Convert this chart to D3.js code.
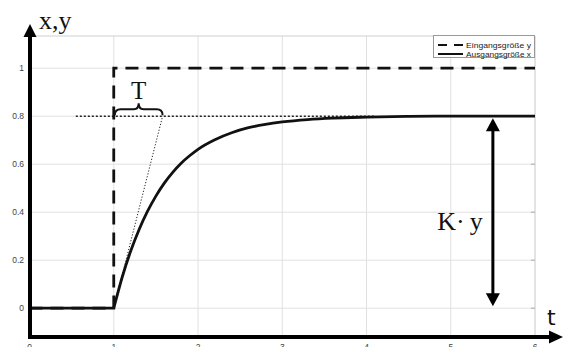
<!DOCTYPE html>
<html>
<head>
<meta charset="utf-8">
<script src="https://cdn.jsdelivr.net/npm/d3@7"></script>
<style>
  body { margin: 0; background: #fff; }
  svg { display: block; }
</style>
</head>
<body>
<div id="chart"></div>
<script>
//step input y (dashed)
var inputTime = [0, 1, 1, 6];
var inputValue = [0, 0, 1, 1];

//output x
var outputTime = [0, 1, 1.1, 1.2, 1.3, 1.4, 1.5, 1.6, 1.7, 1.8, 1.9, 2.0, 2.2, 2.4, 2.6, 2.8, 3.0, 3.3, 3.6, 4.0, 4.5, 5.0, 6.0];
var outputValue = [0, 0, 0.129, 0.237, 0.327, 0.403, 0.467, 0.521, 0.566, 0.604, 0.635, 0.662, 0.702, 0.731, 0.752, 0.766, 0.776, 0.786, 0.792, 0.796, 0.799, 0.800, 0.800];

//annotations
var gainLevel = 0.8;
var stepTime = 1;
var tangentEnd = 1.58;
var guideStart = 0.55;
var guideEnd = 4.1;
var arrowTime = 5.5;

//ticks and labels
var xTicks = [0, 1, 2, 3, 4, 5, 6];
var yTicks = [0, 0.2, 0.4, 0.6, 0.8, 1];
var legendLabels = ["Eingangsgröße y", "Ausgangsgröße x"];

var width = 563, height = 347;

var svg = d3.select("#chart").append("svg")
    .attr("width", width)
    .attr("height", height);

var x = d3.scaleLinear().domain([0, 6]).range([29.5, 535]);
var y = d3.scaleLinear().domain([-0.12, 1.134]).range([337, 36]);

//grid
svg.append("g")
    .selectAll("line")
    .data(xTicks.slice(1))
    .enter().append("line")
    .attr("x1", d => x(d)).attr("x2", d => x(d))
    .attr("y1", y(1.134)).attr("y2", y(-0.12))
    .attr("stroke", d => d == 6 ? "#c8c8c8" : "#e0e0e0")
    .attr("stroke-width", 1);

svg.append("g")
    .selectAll("line")
    .data(yTicks)
    .enter().append("line")
    .attr("x1", x(0)).attr("x2", x(6))
    .attr("y1", d => y(d)).attr("y2", d => y(d))
    .attr("stroke", "#e0e0e0")
    .attr("stroke-width", 1);

//top border
svg.append("line")
    .attr("x1", x(0)).attr("x2", x(6))
    .attr("y1", y(1.134)).attr("y2", y(1.134))
    .attr("stroke", "#cfcfcf");

//small ticks on the right border
svg.append("g")
    .selectAll("line")
    .data(yTicks)
    .enter().append("line")
    .attr("x1", x(6) - 4).attr("x2", x(6))
    .attr("y1", d => y(d)).attr("y2", d => y(d))
    .attr("stroke", "#aaa");

//tick labels
svg.append("g")
    .selectAll("text")
    .data(yTicks)
    .enter().append("text")
    .attr("x", 24)
    .attr("y", d => y(d) + 3)
    .attr("text-anchor", "end")
    .style("font-family", "Liberation Sans, Arial, sans-serif")
    .style("font-size", "8.5px")
    .style("fill", "#444")
    .text(d => d3.format("~g")(d));

svg.append("g")
    .selectAll("text")
    .data(xTicks)
    .enter().append("text")
    .attr("x", d => x(d))
    .attr("y", 350)
    .attr("text-anchor", "middle")
    .style("font-family", "Liberation Sans, Arial, sans-serif")
    .style("font-size", "8.5px")
    .style("fill", "#444")
    .text(d => d);

//dotted guide at final value
svg.append("line")
    .attr("x1", x(guideStart)).attr("x2", x(guideEnd))
    .attr("y1", y(gainLevel)).attr("y2", y(gainLevel))
    .attr("stroke", "#222")
    .attr("stroke-width", 1.5)
    .attr("stroke-dasharray", "2,2");

//tangent at the start
svg.append("line")
    .attr("x1", x(stepTime)).attr("x2", x(tangentEnd))
    .attr("y1", y(0)).attr("y2", y(gainLevel))
    .attr("stroke", "#222")
    .attr("stroke-width", 1)
    .attr("stroke-dasharray", "1.2,1.8");

//input step
var inputLine = d3.line()
    .x((d, i) => x(inputTime[i]))
    .y((d, i) => y(inputValue[i]));

svg.append("path")
    .attr("d", inputLine(inputTime))
    .attr("fill", "none")
    .attr("stroke", "#111")
    .attr("stroke-width", 2.8)
    .attr("stroke-dasharray", "13,8");

//output curve: flat part, then the rise with a sharp corner at t=1
var startIdx = outputTime.indexOf(stepTime);
var flatPart = d3.range(0, startIdx + 1);
var risePart = d3.range(startIdx, outputTime.length);

svg.append("path")
    .attr("d", d3.line()
        .x(i => x(outputTime[i]))
        .y(i => y(outputValue[i]))(flatPart))
    .attr("fill", "none")
    .attr("stroke", "#111")
    .attr("stroke-width", 2.8);

svg.append("path")
    .attr("d", d3.line()
        .x(i => x(outputTime[i]))
        .y(i => y(outputValue[i]))
        .curve(d3.curveMonotoneX)(risePart))
    .attr("fill", "none")
    .attr("stroke", "#111")
    .attr("stroke-width", 2.8)
    .attr("stroke-linejoin", "round");

//brace over T
var bx1 = x(stepTime) + 1, bx2 = x(tangentEnd), by = y(gainLevel) - 1, bm = (bx1 + bx2) / 2;
svg.append("path")
    .attr("d", "M" + bx1 + "," + by +
        " Q" + bx1 + "," + (by - 6) + " " + (bx1 + 6) + "," + (by - 6) +
        " L" + (bm - 5) + "," + (by - 6) +
        " Q" + bm + "," + (by - 6) + " " + bm + "," + (by - 12) +
        " Q" + bm + "," + (by - 6) + " " + (bm + 5) + "," + (by - 6) +
        " L" + (bx2 - 6) + "," + (by - 6) +
        " Q" + bx2 + "," + (by - 6) + " " + bx2 + "," + by)
    .attr("fill", "none")
    .attr("stroke", "#111")
    .attr("stroke-width", 2);

svg.append("text")
    .attr("x", bm)
    .attr("y", by - 16)
    .attr("text-anchor", "middle")
    .style("font-family", "Liberation Serif, serif")
    .style("font-size", "25px")
    .style("fill", "#111")
    .text("T");

//double arrow K*y
var ax = x(arrowTime), aTop = y(gainLevel) + 2, aBot = y(0) - 2;
svg.append("line")
    .attr("x1", ax).attr("x2", ax)
    .attr("y1", aTop + 8).attr("y2", aBot - 8)
    .attr("stroke", "#000")
    .attr("stroke-width", 3);
svg.append("path")
    .attr("d", "M" + ax + "," + aTop + " L" + (ax - 7) + "," + (aTop + 13) + " L" + (ax + 7) + "," + (aTop + 13) + "Z")
    .attr("fill", "#000");
svg.append("path")
    .attr("d", "M" + ax + "," + aBot + " L" + (ax - 7) + "," + (aBot - 13) + " L" + (ax + 7) + "," + (aBot - 13) + "Z")
    .attr("fill", "#000");

svg.append("text")
    .attr("x", ax - 10)
    .attr("y", 230)
    .attr("text-anchor", "end")
    .style("font-family", "Liberation Serif, serif")
    .style("font-size", "26px")
    .style("fill", "#111")
    .text("K·\u2009y");

//axes arrows
svg.append("line")
    .attr("x1", 30).attr("x2", 30)
    .attr("y1", 339).attr("y2", 34)
    .attr("stroke", "#000")
    .attr("stroke-width", 4);
svg.append("path")
    .attr("d", "M30,24 L23.5,37 L36.5,37Z")
    .attr("fill", "#000");

svg.append("line")
    .attr("x1", 28).attr("x2", 552)
    .attr("y1", 337).attr("y2", 337)
    .attr("stroke", "#000")
    .attr("stroke-width", 4);
svg.append("path")
    .attr("d", "M563,337 L549,330.5 L549,343.5Z")
    .attr("fill", "#000");

svg.append("text")
    .attr("x", 39)
    .attr("y", 29)
    .style("font-family", "Liberation Serif, serif")
    .style("font-size", "26px")
    .style("fill", "#111")
    .text("x,y");

svg.append("text")
    .attr("x", 547)
    .attr("y", 325)
    .style("font-family", "DejaVu Sans, sans-serif")
    .style("font-size", "22px")
    .style("fill", "#111")
    .text("t");

//legend
var legend = svg.append("g");
legend.append("rect")
    .attr("x", 433.5).attr("y", 35.5)
    .attr("width", 101).attr("height", 22)
    .attr("fill", "#fff")
    .attr("stroke", "#999");

legend.selectAll("line")
    .data(legendLabels)
    .enter().append("line")
    .attr("x1", 438).attr("x2", 463)
    .attr("y1", (d, i) => 45 + i * 9).attr("y2", (d, i) => 45 + i * 9)
    .attr("stroke", "#111")
    .attr("stroke-width", 2)
    .attr("stroke-dasharray", (d, i) => i == 0 ? "9,7" : null);

legend.selectAll("text")
    .data(legendLabels)
    .enter().append("text")
    .attr("x", 466)
    .attr("y", (d, i) => 47.5 + i * 9)
    .attr("textLength", 65)
    .attr("lengthAdjust", "spacingAndGlyphs")
    .style("font-family", "Liberation Sans, Arial, sans-serif")
    .style("font-size", "8px")
    .style("fill", "#222")
    .text(d => d);
</script>
</body>
</html>
